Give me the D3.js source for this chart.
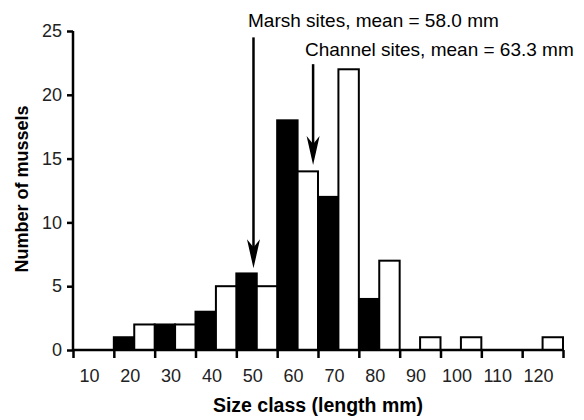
<!DOCTYPE html>
<html>
<head>
<meta charset="utf-8">
<script src="https://cdn.jsdelivr.net/npm/d3@7"></script>
<style>
  body { margin: 0; background: #fff; }
  svg text { font-family: "Liberation Sans", Arial, sans-serif; }
</style>
</head>
<body>
<div id="chart"></div>
<script>
// size classes (mm) and counts per site type
var sizeClass = [10, 20, 30, 40, 50, 60, 70, 80, 90, 100, 110, 120]
var marsh   = [0, 1, 2, 3, 6, 18, 12, 4, 0, 0, 0, 0]
var channel = [0, 2, 2, 5, 5, 14, 22, 7, 1, 1, 0, 1]
var yTicks = [0, 5, 10, 15, 20, 25]

// mean arrows: x position on the size axis, arrow tip and top in counts
var arrowNames = ['Marsh sites, mean = 58.0 mm', 'Channel sites, mean = 63.3 mm']
var arrowX = [49.2, 63.8]
var arrowTip = [6.4, 14.5]
var arrowTop = [24.5, 22.4]

var width = 584, height = 420
var svg = d3.select('#chart').append('svg').attr('width', width).attr('height', height)

var x = d3.scaleLinear().domain([5, 125]).range([73, 563])
var y = d3.scaleLinear().domain([0, 25]).range([350, 31])

var g = svg.append('g')

// bars
var rows = sizeClass.map(function(c, i) { return {c: c, m: marsh[i], ch: channel[i]} })
g.selectAll('rect.marsh').data(rows.filter(function(d) { return d.m > 0 })).enter()
  .append('rect').attr('class', 'marsh')
  .attr('x', function(d) { return x(d.c - 5) })
  .attr('width', function(d) { return x(d.c) - x(d.c - 5) })
  .attr('y', function(d) { return y(d.m) })
  .attr('height', function(d) { return y(0) - y(d.m) })
  .attr('fill', '#000').attr('stroke', '#000').attr('stroke-width', 2)

g.selectAll('rect.channel').data(rows.filter(function(d) { return d.ch > 0 })).enter()
  .append('rect').attr('class', 'channel')
  .attr('x', function(d) { return x(d.c) })
  .attr('width', function(d) { return x(d.c + 5) - x(d.c) })
  .attr('y', function(d) { return y(d.ch) })
  .attr('height', function(d) { return y(0) - y(d.ch) })
  .attr('fill', '#fff').attr('stroke', '#000').attr('stroke-width', 2)

// x axis: ticks on class boundaries, labels near class centres
var bounds = sizeClass.map(function(c) { return c - 5 }).concat([125])
var xAxis = g.append('g').attr('transform', 'translate(0,' + y(0) + ')')
  .call(d3.axisBottom(x).tickValues(bounds).tickSize(8).tickFormat(''))
xAxis.select('.domain').attr('stroke-width', 2.5).attr('d', 'M' + x(5) + ',0H' + x(125))
xAxis.selectAll('.tick line').attr('stroke-width', 2.5)
g.selectAll('text.xlab').data(sizeClass).enter()
  .append('text').attr('class', 'xlab')
  .attr('x', function(d) { return x(d) - 4 })
  .attr('y', 382)
  .attr('text-anchor', 'middle')
  .attr('font-size', 18).attr('fill', '#222')
  .text(function(d) { return d })

// y axis
var yAxis = g.append('g').attr('transform', 'translate(' + x(5) + ',0)')
  .call(d3.axisLeft(y).tickValues(yTicks).tickSize(6).tickPadding(5))
yAxis.select('.domain').attr('stroke-width', 2.5).attr('d', 'M0,' + y(25) + 'V' + y(0))
yAxis.selectAll('.tick line').attr('stroke-width', 2.5)
yAxis.selectAll('.tick text').attr('font-size', 18).attr('fill', '#222')
  .attr('font-family', '"Liberation Sans", Arial, sans-serif')

// axis titles
svg.append('text').attr('x', 318).attr('y', 412).attr('text-anchor', 'middle')
  .attr('font-size', 19.5).attr('font-weight', 'bold').text('Size class (length mm)')
svg.append('text').attr('transform', 'translate(28,189) rotate(-90)').attr('text-anchor', 'middle')
  .attr('font-size', 18).attr('font-weight', 'bold').text('Number of mussels')

// mean arrows
var labelPos = [[248, 27], [305, 56]]
arrowNames.forEach(function(name, i) {
  var ax = x(arrowX[i]), tip = y(arrowTip[i])
  svg.append('line').attr('x1', ax).attr('x2', ax)
    .attr('y1', y(arrowTop[i])).attr('y2', tip - 20)
    .attr('stroke', '#000').attr('stroke-width', 2.5)
  svg.append('path')
    .attr('d', 'M' + ax + ',' + tip + 'L' + (ax - 6.5) + ',' + (tip - 29) +
      'L' + ax + ',' + (tip - 21) + 'L' + (ax + 6.5) + ',' + (tip - 29) + 'Z')
    .attr('fill', '#000')
  svg.append('text').attr('x', labelPos[i][0]).attr('y', labelPos[i][1])
    .attr('font-size', 19).attr('fill', '#000').text(name)
})
</script>
</body>
</html>
